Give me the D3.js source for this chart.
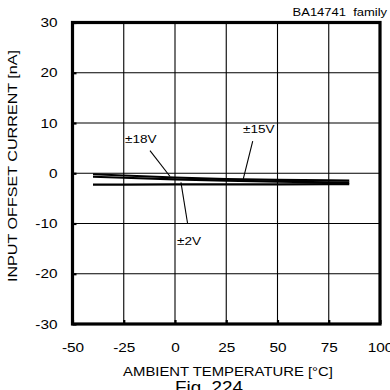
<!DOCTYPE html>
<html>
<head>
<meta charset="utf-8">
<script src="https://cdn.jsdelivr.net/npm/d3@7"></script>
<style>
  html, body { margin: 0; padding: 0; background: #fff; }
  svg { display: block; }
  text { font-family: "Liberation Sans", Arial, sans-serif; fill: #000; white-space: pre; }
</style>
</head>
<body>
<svg id="chart" width="390" height="390"></svg>
<script>
// ---- data ----
const temperatures = [-40, -25, 0, 25, 50, 75, 85];
const offset18V = [-0.2, -0.45, -0.85, -1.15, -1.3, -1.4, -1.45];
const offset15V = [-0.7, -0.9, -1.2, -1.45, -1.65, -1.8, -1.85];
const offset2V  = [-2.25, -2.25, -2.2, -2.2, -2.2, -2.15, -2.15];
const seriesNames = ["±18V", "±15V", "±2V"];
const xTicks = [-50, -25, 0, 25, 50, 75, 100];
const yTicks = [-30, -20, -10, 0, 10, 20, 30];
// annotation anchors in data units: [labelX, labelY, leaderFromX, leaderFromY, leaderToX, leaderToY]
const labelAnchors = [
  [-24.4, 6.1, -12.2, 4.5, -2.4, -0.65],
  [33.2, 8.1, 37.9, 6.4, 33.3, -1.1],
  [1.0, -14.2, 2.9, -1.8, 6.1, -9.9]
];
const titleText = "BA14741  family";
const xTitle = "AMBIENT TEMPERATURE [°C]";
const yTitle = "INPUT OFFSET CURRENT [nA]";
const figText = "Fig. 224";

// ---- layout ----
const svg = d3.select("#chart");
const L = 72.5, R = 380, T = 22.5, B = 324;
const SX = 1.18; // horizontal stretch of the source lettering

const x = d3.scaleLinear().domain([-50, 100]).range([L, R]);
const y = d3.scaleLinear().domain([-30, 30]).range([B, T]);
const plain = d => String(d);

svg.append("rect").attr("width", 390).attr("height", 390).attr("fill", "#fff");

// grid
const grid = svg.append("g");
grid.selectAll(".vx").data(xTicks.slice(1, -1)).enter().append("line")
  .attr("x1", d => x(d)).attr("x2", d => x(d)).attr("y1", T).attr("y2", B)
  .attr("stroke", "#000").attr("stroke-width", 1.1);
grid.selectAll(".hy").data(yTicks.slice(1, -1)).enter().append("line")
  .attr("y1", d => y(d)).attr("y2", d => y(d)).attr("x1", L).attr("x2", R)
  .attr("stroke", "#000").attr("stroke-width", 1.1);

// axes (ticks inward)
const yAxis = svg.append("g").attr("transform", `translate(${L},0)`)
  .call(d3.axisLeft(y).tickValues(yTicks).tickFormat(plain).tickSizeInner(-4).tickSizeOuter(0).tickPadding(15));
const xAxis = svg.append("g").attr("transform", `translate(0,${B})`)
  .call(d3.axisBottom(x).tickValues(xTicks).tickFormat(plain).tickSizeInner(-4).tickSizeOuter(0).tickPadding(19));
[yAxis, xAxis].forEach(g => {
  g.select(".domain").remove();
  g.selectAll(".tick line").attr("stroke", "#000").attr("stroke-width", 2.2);
  g.selectAll(".tick text").attr("font-size", 13).attr("fill", "#000")
    .style("font-family", '"Liberation Sans", Arial, sans-serif');
});
yAxis.selectAll(".tick text").each(function () {
  const t = d3.select(this);
  const px = +t.attr("x");
  t.attr("x", 0).attr("transform", `translate(${px},0) scale(${SX},1)`);
});
xAxis.selectAll(".tick text").each(function () {
  const t = d3.select(this);
  const py = +t.attr("y");
  t.attr("y", 0).attr("transform", `translate(0,${py}) scale(${SX},1)`);
});

// frame
svg.append("rect").attr("x", L).attr("y", T).attr("width", R - L).attr("height", B - T)
  .attr("fill", "none").attr("stroke", "#000").attr("stroke-width", 3.2);

// series
const line = d3.line().x(d => x(d[0])).y(d => y(d[1]));
const seriesVals = [offset18V, offset15V, offset2V];
seriesVals.forEach(vals => {
  svg.append("path")
    .datum(temperatures.map((t, i) => [t, vals[i]]))
    .attr("d", line).attr("fill", "none").attr("stroke", "#000")
    .attr("stroke-width", 2.2).attr("stroke-linejoin", "round");
});

// annotations
labelAnchors.forEach((a, i) => {
  svg.append("line")
    .attr("x1", x(a[2])).attr("y1", y(a[3])).attr("x2", x(a[4])).attr("y2", y(a[5]))
    .attr("stroke", "#000").attr("stroke-width", 1.1);
  svg.append("text")
    .attr("transform", `translate(${x(a[0])},${y(a[1])}) scale(${SX},1)`)
    .attr("font-size", 11.5).text(seriesNames[i]);
});

// texts
function stretchedText(tx, ty, str, size, anchor) {
  return svg.append("text")
    .attr("transform", `translate(${tx},${ty}) scale(${SX},1)`)
    .attr("font-size", size).attr("text-anchor", anchor)
    .attr("xml:space", "preserve").text(str);
}
stretchedText(387, 16, titleText, 11, "end");
stretchedText(228, 376, xTitle, 12.6, "middle");
stretchedText(209, 393, figText, 16, "middle");

svg.append("text")
  .attr("transform", "translate(16.5,166) rotate(-90)")
  .attr("font-size", 13).attr("text-anchor", "middle")
  .attr("textLength", 232).attr("lengthAdjust", "spacingAndGlyphs")
  .text(yTitle);
</script>
</body>
</html>
